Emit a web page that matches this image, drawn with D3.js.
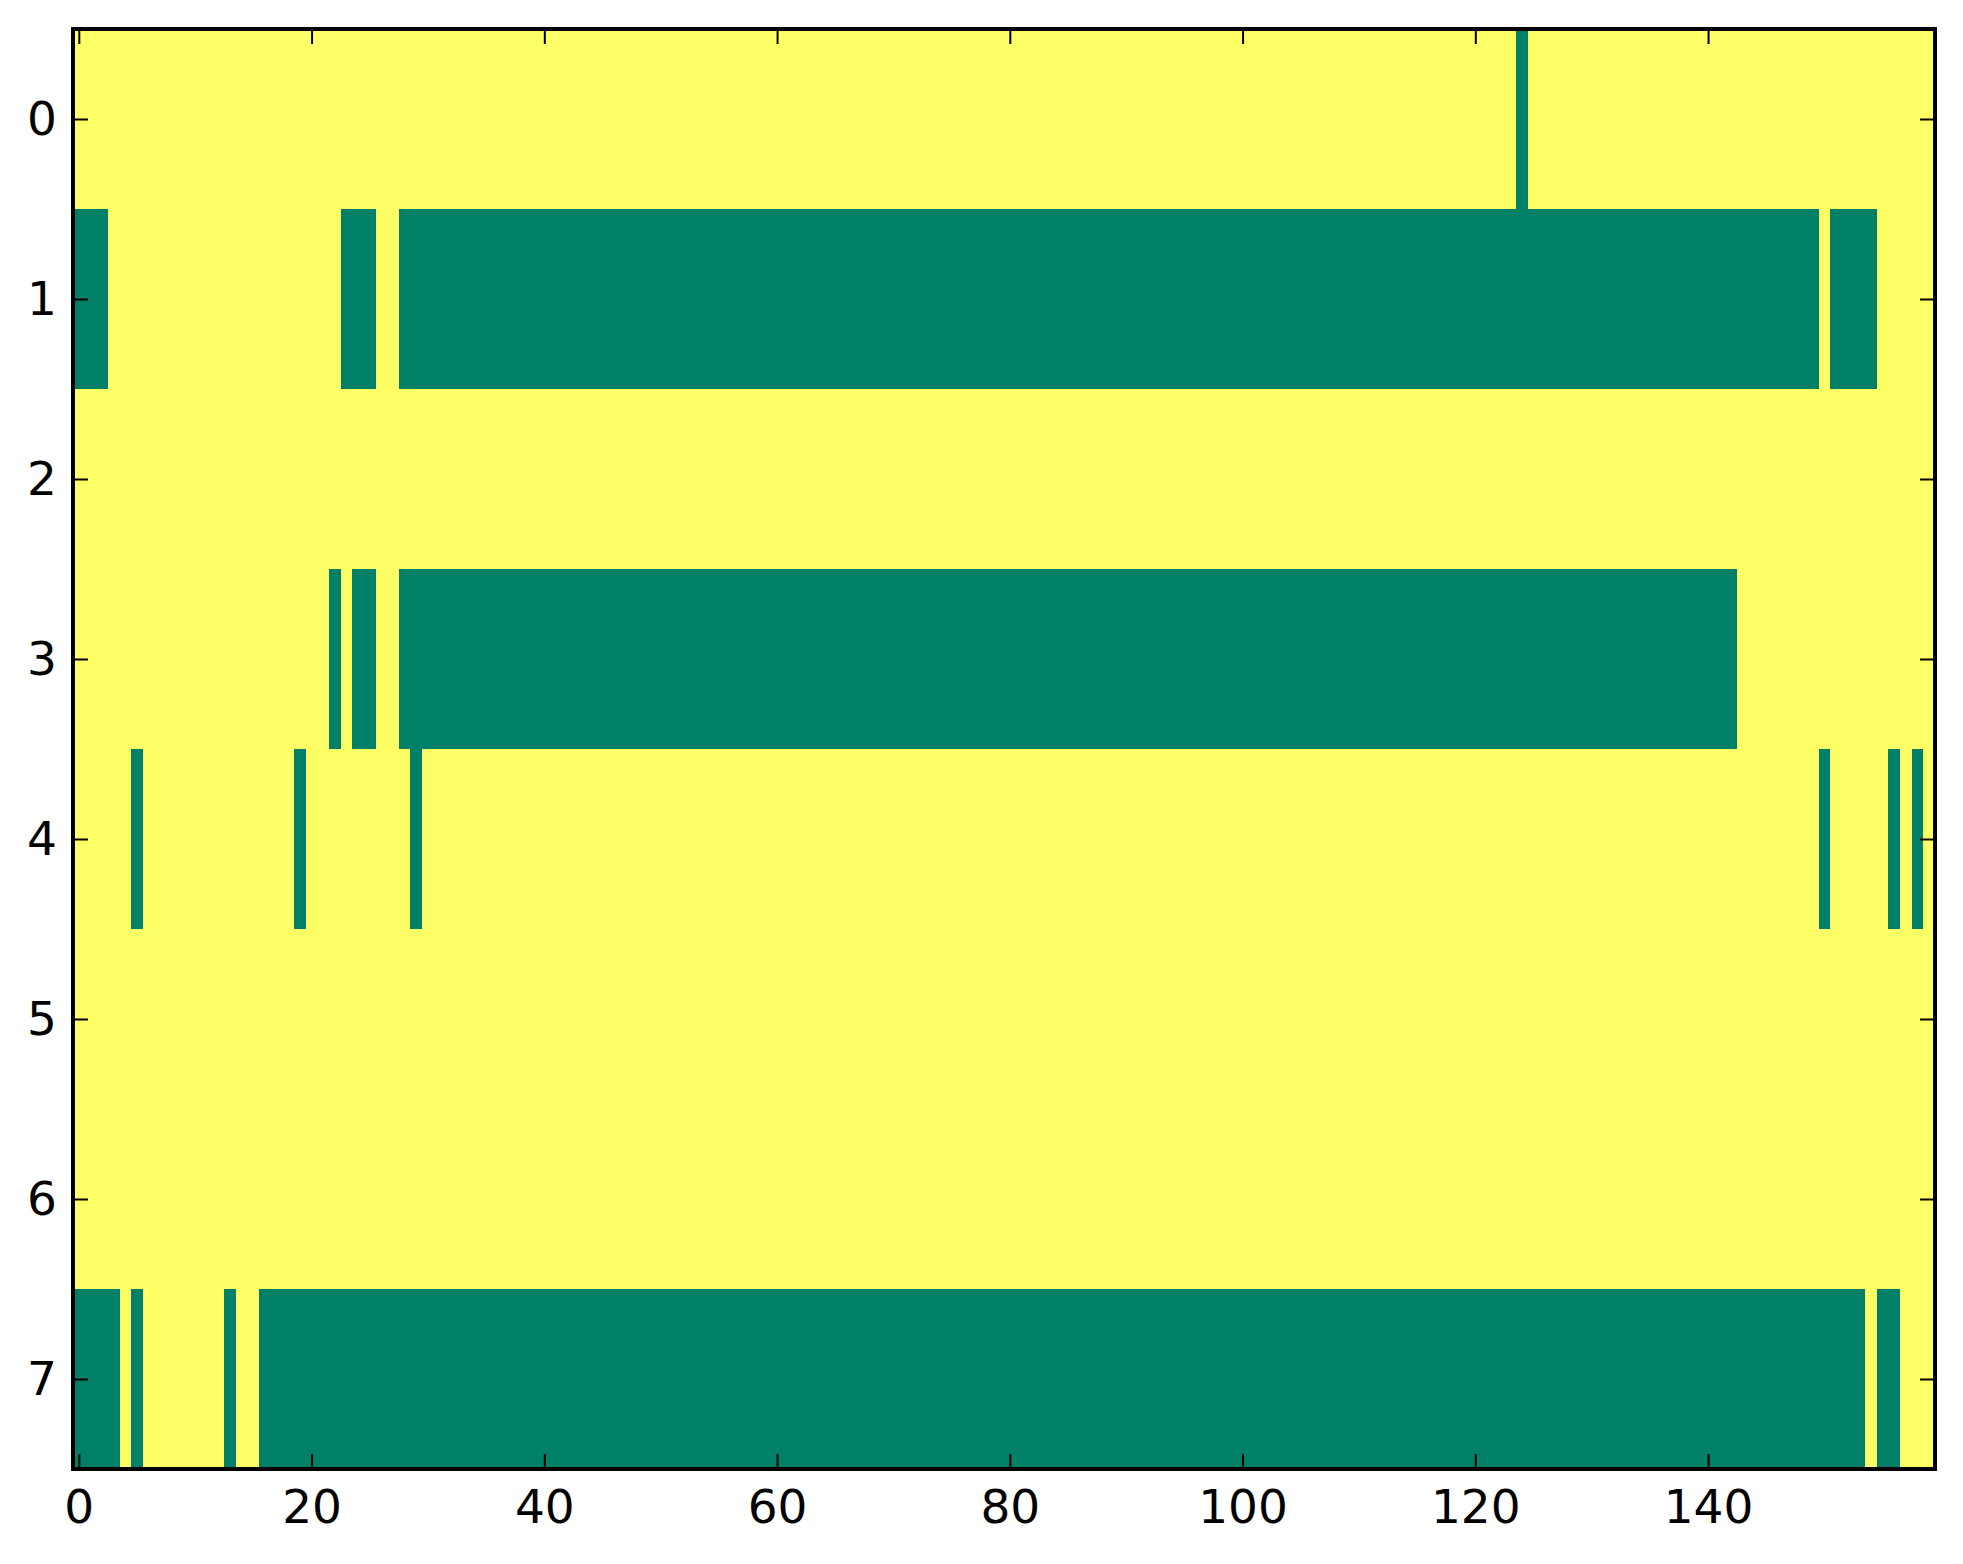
<!DOCTYPE html>
<html>
<head>
<meta charset="utf-8">
<script src="https://cdn.jsdelivr.net/npm/d3@7"></script>
<style>
  body { margin: 0; background: #fff; }
  svg { display: block; }
  .tick text { font-family: "DejaVu Sans", sans-serif; font-size: 47px; fill: #000; }
</style>
</head>
<body>
<svg id="chart"></svg>
<script>
// 8 x 160 binary matrix (imshow, "summer" colormap).
// Every cell is 1 (yellow) except the 0 (green) runs listed per row: [first, last] column.
const nCols = 160;
const rowIds = [0, 1, 2, 3, 4, 5, 6, 7];
const zeroRuns = [
  [[124, 124]],
  [[0, 2], [23, 25], [28, 149], [151, 154]],
  [],
  [[22, 22], [24, 25], [28, 142]],
  [[5, 5], [19, 19], [29, 29], [150, 150], [156, 156], [158, 158]],
  [],
  [],
  [[0, 3], [5, 5], [13, 13], [16, 153], [155, 156]]
];
const xTicks = [0, 20, 40, 60, 80, 100, 120, 140];
const yTicks = [0, 1, 2, 3, 4, 5, 6, 7];

const width = 1963;
const height = 1564;
const margin = { top: 29, right: 28, bottom: 95, left: 73 };
const innerW = width - margin.left - margin.right;
const innerH = height - margin.top - margin.bottom;

const svg = d3.select('#chart')
  .attr('width', width)
  .attr('height', height);

const g = svg.append('g')
  .attr('transform', `translate(${margin.left},${margin.top})`);

const x = d3.scaleLinear().domain([-0.5, nCols - 0.5]).range([0, innerW]);
const y = d3.scaleLinear().domain([-0.5, rowIds.length - 0.5]).range([0, innerH]);
const color = d3.scaleOrdinal().domain([0, 1]).range(['#008066', '#ffff66']);

// build the cells
const cells = [];
rowIds.forEach(r => {
  for (let c = 0; c < nCols; c++) {
    const isZero = zeroRuns[r].some(([a, b]) => c >= a && c <= b);
    cells.push({ row: r, col: c, value: isZero ? 0 : 1 });
  }
});

g.append('g')
  .attr('shape-rendering', 'crispEdges')
  .selectAll('rect')
  .data(cells)
  .enter()
  .append('rect')
  .attr('x', d => x(d.col - 0.5))
  .attr('y', d => y(d.row - 0.5))
  .attr('width', d => x(d.col + 0.5) - x(d.col - 0.5) + 0.5)
  .attr('height', d => y(d.row + 0.5) - y(d.row - 0.5) + 0.5)
  .attr('fill', d => color(d.value));

// axes, ticks pointing inward on all four sides
const tickLen = 15;

const styleAxis = sel => {
  sel.select('.domain').remove();
  sel.selectAll('.tick line').attr('stroke', '#000').attr('stroke-width', 2);
};

g.append('g')
  .attr('transform', `translate(0,${innerH})`)
  .call(d3.axisBottom(x).tickValues(xTicks).tickSize(-tickLen).tickPadding(21))
  .call(styleAxis);

g.append('g')
  .call(d3.axisTop(x).tickValues(xTicks).tickSize(-tickLen).tickFormat(''))
  .call(styleAxis);

g.append('g')
  .call(d3.axisLeft(y).tickValues(yTicks).tickSize(-tickLen).tickPadding(16))
  .call(styleAxis);

g.append('g')
  .attr('transform', `translate(${innerW},0)`)
  .call(d3.axisRight(y).tickValues(yTicks).tickSize(-tickLen).tickFormat(''))
  .call(styleAxis);

// frame
g.append('rect')
  .attr('x', 0)
  .attr('y', 0)
  .attr('width', innerW)
  .attr('height', innerH)
  .attr('fill', 'none')
  .attr('stroke', '#000')
  .attr('stroke-width', 4);
</script>
</body>
</html>
